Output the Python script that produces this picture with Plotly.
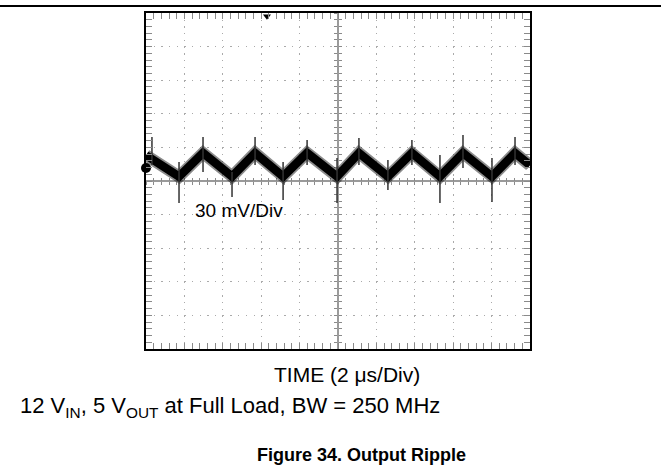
import plotly.graph_objects as go

# ---- data (time in µs, voltage in mV, AC-coupled ripple) ----
wave_t = [0.0, 1.72, 2.97, 4.48, 5.68, 7.14, 8.39, 9.95, 11.09, 12.60, 13.85, 15.31, 16.51, 18.02, 19.22, 20.0]
wave_v = [23.0, 4.0, 25.0, 4.0, 25.0, 4.0, 25.0, 4.0, 25.0, 4.0, 25.0, 4.0, 25.0, 4.0, 25.0, 14.0]

spike_t = [1.72, 4.48, 7.14, 9.95, 12.60, 15.31, 18.02,
           0.31, 2.97, 5.68, 8.39, 11.09, 13.85, 16.51, 19.22]
spike_top = [17.0, 8.0, 17.0, 20.5, 18.8, 23.2, 20.5,
             39.3, 39.3, 39.3, 36.6, 38.4, 36.6, 41.1, 39.3]
spike_bot = [-19.6, -14.3, -17.0, -19.6, -8.0, -19.6, -18.8,
             14.3, 8.0, 14.3, 14.3, 14.3, 14.3, 11.6, 14.3]

ch_marker_t = [0.0]
ch_marker_v = [11.6]
trig_marker_t = [6.3]
trig_marker_v = [147.0]

x_range = [0, 20]      # 10 div x 2 µs
y_range = [-150, 150]  # 10 div x 30 mV
x_div = 2
y_div = 30

label_vdiv = "30 mV/Div"
label_time = "TIME (2 μs/Div)"
label_cond = "12 V<sub>IN</sub>, 5 V<sub>OUT</sub> at Full Load, BW = 250 MHz"
label_title = "<b>Figure 34. Output Ripple</b>"

# ---- build spike segments ----
sx, sy = [], []
for t, a, b in zip(spike_t, spike_top, spike_bot):
    sx += [t, t, None]
    sy += [a, b, None]

W, H = 661, 472
L, R, T, B = 146, 530, 13, 349

def px(x):
    return (x - L) / (R - L)

def py(y):
    return (B - y) / (B - T)

FONT = "Liberation Sans, Arial, Helvetica, sans-serif"

fig = go.Figure()
# fuzzy band
fig.add_trace(go.Scatter(x=wave_t, y=wave_v, mode="lines",
                         line=dict(color="rgba(0,0,0,0.45)", width=12),
                         hoverinfo="skip", showlegend=False))
fig.add_trace(go.Scatter(x=wave_t, y=wave_v, mode="lines",
                         line=dict(color="black", width=8.5),
                         hoverinfo="skip", showlegend=False))
fig.add_trace(go.Scatter(x=sx, y=sy, mode="lines",
                         line=dict(color="#333333", width=1.5),
                         hoverinfo="skip", showlegend=False))
fig.add_trace(go.Scatter(x=ch_marker_t, y=ch_marker_v, mode="markers",
                         marker=dict(symbol="circle", size=10, color="black"),
                         cliponaxis=False, hoverinfo="skip", showlegend=False))
fig.add_trace(go.Scatter(x=trig_marker_t, y=trig_marker_v, mode="markers",
                         marker=dict(symbol="triangle-down", size=7, color="black"),
                         cliponaxis=False, hoverinfo="skip", showlegend=False))
# dummy traces for crosshair axes
for xa, ya in [("x2", "y"), ("x3", "y"), ("x", "y2"), ("x", "y3")]:
    fig.add_trace(go.Scatter(x=[None], y=[None], xaxis=xa, yaxis=ya,
                             hoverinfo="skip", showlegend=False))

tick_gray = "#8a8a8a"
base_axis = dict(showticklabels=False, zeroline=False, showline=True,
                 linecolor="black", linewidth=2, mirror="allticks",
                 ticks="inside", ticklen=6, tickwidth=1, tickcolor=tick_gray,
                 showgrid=True, gridcolor="#aaaaaa", gridwidth=1.3,
                 layer="above traces")

fig.update_layout(
    width=W, height=H,
    margin=dict(l=L, r=W - R, t=T, b=H - B),
    paper_bgcolor="white", plot_bgcolor="white",
    showlegend=False,
    font=dict(family=FONT, size=20, color="black"),
    xaxis=dict(range=x_range, dtick=x_div, griddash="1.3px,5.42px",
               minor=dict(dtick=x_div / 5, ticks="inside", ticklen=4,
                          tickcolor=tick_gray, tickwidth=1, showgrid=False),
               **base_axis),
    yaxis=dict(range=y_range, dtick=y_div, griddash="1.3px,6.38px",
               minor=dict(dtick=y_div / 5, ticks="inside", ticklen=4,
                          tickcolor=tick_gray, tickwidth=1, showgrid=False),
               **base_axis),
    xaxis2=dict(range=x_range, dtick=x_div, overlaying="x", anchor="free", position=0.5,
                showline=True, linecolor="#9a9a9a", linewidth=1.5,
                ticks="outside", ticklen=3, tickcolor=tick_gray, tickwidth=1,
                minor=dict(dtick=x_div / 5, ticks="outside", ticklen=3, tickcolor=tick_gray),
                showgrid=False, zeroline=False, showticklabels=False, layer="below traces"),
    xaxis3=dict(range=x_range, dtick=x_div, overlaying="x", anchor="free", position=0.5,
                showline=False, ticks="inside", ticklen=3, tickcolor=tick_gray, tickwidth=1,
                minor=dict(dtick=x_div / 5, ticks="inside", ticklen=3, tickcolor=tick_gray),
                showgrid=False, zeroline=False, showticklabels=False, layer="below traces"),
    yaxis2=dict(range=y_range, dtick=y_div, overlaying="y", anchor="free", position=0.5,
                showline=True, linecolor="#9a9a9a", linewidth=1.5,
                ticks="outside", ticklen=3, tickcolor=tick_gray, tickwidth=1,
                minor=dict(dtick=y_div / 5, ticks="outside", ticklen=3, tickcolor=tick_gray),
                showgrid=False, zeroline=False, showticklabels=False, layer="below traces"),
    yaxis3=dict(range=y_range, dtick=y_div, overlaying="y", anchor="free", position=0.5,
                showline=False, ticks="inside", ticklen=3, tickcolor=tick_gray, tickwidth=1,
                minor=dict(dtick=y_div / 5, ticks="inside", ticklen=3, tickcolor=tick_gray),
                showgrid=False, zeroline=False, showticklabels=False, layer="below traces"),
    shapes=[dict(type="line", xref="paper", yref="paper",
                 x0=px(0), x1=px(W), y0=py(6), y1=py(6),
                 line=dict(color="black", width=2))],
    annotations=[
        dict(text=label_vdiv, xref="paper", yref="paper", x=px(193), y=py(210),
             xanchor="left", yanchor="middle", showarrow=False,
             font=dict(family=FONT, size=19, color="black")),
        dict(text=label_time, xref="paper", yref="paper", x=px(347), y=py(374),
             xanchor="center", yanchor="middle", showarrow=False,
             font=dict(family=FONT, size=21, color="black")),
        dict(text=label_cond, xref="paper", yref="paper", x=px(18), y=py(407),
             xanchor="left", yanchor="middle", showarrow=False,
             font=dict(family=FONT, size=22, color="black")),
        dict(text=label_title, xref="paper", yref="paper", x=px(361), y=py(455),
             xanchor="center", yanchor="middle", showarrow=False,
             font=dict(family=FONT, size=18, color="black")),
    ],
)

fig.write_html("out.html", config={"displayModeBar": False},
               post_script="document.body.style.margin='0';document.body.style.padding='0';")
